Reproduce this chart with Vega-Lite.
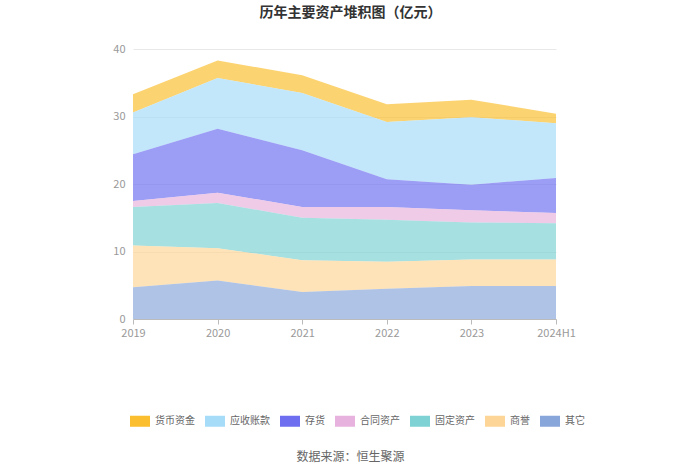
{
  "$schema": "https://vega.github.io/schema/vega-lite/v6.json",
  "autosize": "none",
  "width": 423,
  "height": 270,
  "padding": {"left": 133, "top": 49, "right": 144, "bottom": 155},
  "background": "white",
  "config": {"view": {"stroke": null}, "font": "Noto Sans CJK SC"},
  "title": {
    "text": "历年主要资产堆积图（亿元）",
    "fontSize": 14,
    "fontWeight": "bold",
    "color": "#333333",
    "anchor": "middle",
    "dx": 6,
    "offset": 23
  },
  "data": {
    "values": [
      {"year": "2019", "item": "货币资金", "value": 2.7},
      {"year": "2019", "item": "应收账款", "value": 6.2},
      {"year": "2019", "item": "存货", "value": 6.9},
      {"year": "2019", "item": "合同资产", "value": 0.9},
      {"year": "2019", "item": "固定资产", "value": 5.7},
      {"year": "2019", "item": "商誉", "value": 6.2},
      {"year": "2019", "item": "其它", "value": 4.7},
      {"year": "2020", "item": "货币资金", "value": 2.6},
      {"year": "2020", "item": "应收账款", "value": 7.5},
      {"year": "2020", "item": "存货", "value": 9.5},
      {"year": "2020", "item": "合同资产", "value": 1.5},
      {"year": "2020", "item": "固定资产", "value": 6.7},
      {"year": "2020", "item": "商誉", "value": 4.8},
      {"year": "2020", "item": "其它", "value": 5.7},
      {"year": "2021", "item": "货币资金", "value": 2.6},
      {"year": "2021", "item": "应收账款", "value": 8.5},
      {"year": "2021", "item": "存货", "value": 8.4},
      {"year": "2021", "item": "合同资产", "value": 1.6},
      {"year": "2021", "item": "固定资产", "value": 6.3},
      {"year": "2021", "item": "商誉", "value": 4.7},
      {"year": "2021", "item": "其它", "value": 4.0},
      {"year": "2022", "item": "货币资金", "value": 2.6},
      {"year": "2022", "item": "应收账款", "value": 8.5},
      {"year": "2022", "item": "存货", "value": 4.1},
      {"year": "2022", "item": "合同资产", "value": 1.9},
      {"year": "2022", "item": "固定资产", "value": 6.2},
      {"year": "2022", "item": "商誉", "value": 4.0},
      {"year": "2022", "item": "其它", "value": 4.5},
      {"year": "2023", "item": "货币资金", "value": 2.6},
      {"year": "2023", "item": "应收账款", "value": 10.0},
      {"year": "2023", "item": "存货", "value": 3.8},
      {"year": "2023", "item": "合同资产", "value": 1.8},
      {"year": "2023", "item": "固定资产", "value": 5.5},
      {"year": "2023", "item": "商誉", "value": 3.9},
      {"year": "2023", "item": "其它", "value": 4.9},
      {"year": "2024H1", "item": "货币资金", "value": 1.4},
      {"year": "2024H1", "item": "应收账款", "value": 8.1},
      {"year": "2024H1", "item": "存货", "value": 5.2},
      {"year": "2024H1", "item": "合同资产", "value": 1.5},
      {"year": "2024H1", "item": "固定资产", "value": 5.4},
      {"year": "2024H1", "item": "商誉", "value": 3.9},
      {"year": "2024H1", "item": "其它", "value": 4.9}
    ]
  },
  "mark": {"type": "area", "fillOpacity": 0.68, "interpolate": "linear"},
  "encoding": {
    "x": {
      "field": "year",
      "type": "ordinal",
      "scale": {"type": "point", "padding": 0},
      "axis": {
        "title": "数据来源：恒生聚源",
        "titleFontSize": 12,
        "titleFontWeight": "normal",
        "titleColor": "#666666",
        "titlePadding": 113,
        "titleX": 217,
        "labelAngle": 0,
        "labelColor": "#999999",
        "labelFontSize": 11,
        "domainColor": "#bbbbbb",
        "tickColor": "#bbbbbb",
        "tickSize": 5,
        "labelPadding": 3,
        "grid": false
      }
    },
    "y": {
      "field": "value",
      "type": "quantitative",
      "stack": "zero",
      "scale": {"domain": [0, 40]},
      "axis": {
        "title": null,
        "values": [0, 10, 20, 30, 40],
        "labelColor": "#999999",
        "labelFontSize": 11,
        "labelPadding": 8,
        "domain": false,
        "ticks": false,
        "gridColor": "#e8e8e8"
      }
    },
    "color": {
      "field": "item",
      "type": "nominal",
      "scale": {
        "domain": ["货币资金", "应收账款", "存货", "合同资产", "固定资产", "商誉", "其它"],
        "range": ["#fbbe2e", "#a6dcf8", "#6d6ef0", "#e7b2dd", "#7ed2d3", "#fdd596", "#88a6da"]
      },
      "legend": {
        "title": null,
        "orient": "none",
        "direction": "horizontal",
        "legendX": -3,
        "legendY": 362,
        "symbolType": "M-1,-0.55H1V0.55H-1Z",
        "symbolSize": 400,
        "symbolOpacity": 1,
        "symbolStrokeWidth": 0,
        "labelFontSize": 10,
        "labelColor": "#666666",
        "labelOffset": 5,
        "columnPadding": 10
      }
    },
    "order": {"field": "ord", "type": "quantitative"}
  },
  "transform": [
    {"calculate": "indexof(['其它','商誉','固定资产','合同资产','存货','应收账款','货币资金'], datum.item)", "as": "ord"}
  ]
}
